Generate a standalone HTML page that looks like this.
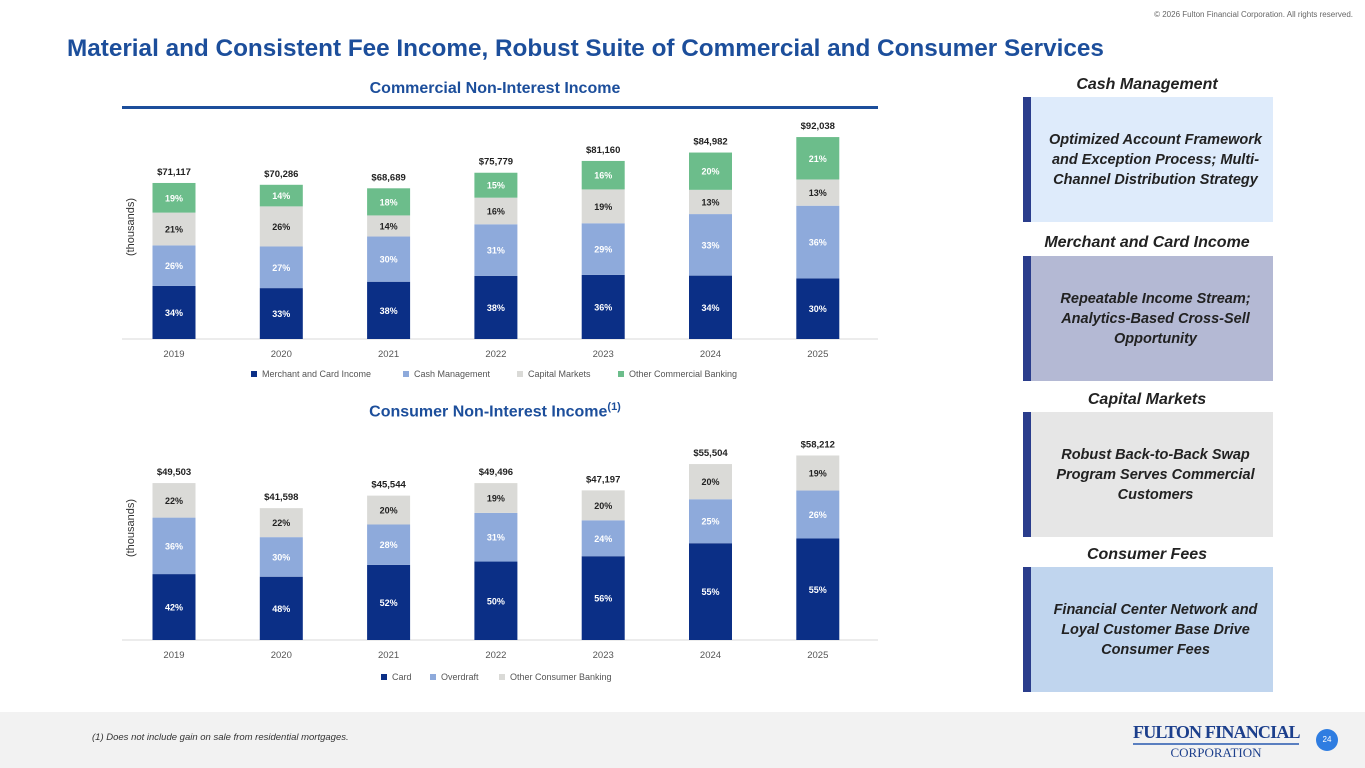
<!DOCTYPE html>
<html><head><meta charset="utf-8">
<style>
body{margin:0;width:1365px;height:768px;position:relative;background:#fff;font-family:"Liberation Sans",sans-serif;overflow:hidden}
.abs{position:absolute}
.title{left:67px;top:35px;font-size:24.3px;font-weight:bold;color:#1c4e9b;white-space:nowrap}
.copy{right:12px;top:10px;font-size:8px;color:#666}
.ct{font-size:16px;font-weight:bold;color:#1c4e9b;text-align:center}
.hd{font-size:16px;font-weight:bold;font-style:italic;color:#222;text-align:center;width:260px;left:1017px}
.box{left:1023px;width:250px;height:125px;display:flex;align-items:center;justify-content:center;text-align:center;font-size:14.5px;font-weight:bold;font-style:italic;color:#222;line-height:20px;box-sizing:border-box;padding:0 10px 0 17px;border-left:8px solid #2a3d8c}
.footer{left:0;top:712px;width:1365px;height:56px;background:#f2f2f2}
</style></head><body>
<div class="abs copy">© 2026 Fulton Financial Corporation. All rights reserved.</div>
<div class="abs title">Material and Consistent Fee Income, Robust Suite of Commercial and Consumer Services</div>
<div class="abs ct" style="left:115px;width:760px;top:80px">Commercial Non-Interest Income</div>
<div class="abs" style="left:122px;top:106px;width:756px;height:3px;background:#1c4e9b"></div>
<div class="abs ct" style="left:115px;width:760px;top:401px">Consumer Non-Interest Income<sup style="font-size:11px">(1)</sup></div>
<svg class="abs" id="c1" style="left:0;top:0" width="1000" height="400"></svg>
<svg class="abs" id="c2" style="left:0;top:390px" width="1000" height="310"></svg>

<div class="abs hd" style="top:76px">Cash Management</div>
<div class="abs box" style="top:97px;background:#deebfb">Optimized Account Framework and Exception Process; Multi-Channel Distribution Strategy</div>
<div class="abs hd" style="top:234px">Merchant and Card Income</div>
<div class="abs box" style="top:256px;background:#b4b9d4">Repeatable Income Stream; Analytics-Based Cross-Sell Opportunity</div>
<div class="abs hd" style="top:391px">Capital Markets</div>
<div class="abs box" style="top:412px;background:#e6e6e6">Robust Back-to-Back Swap Program Serves Commercial Customers</div>
<div class="abs hd" style="top:546px">Consumer Fees</div>
<div class="abs box" style="top:567px;background:#c0d5ee">Financial Center Network and Loyal Customer Base Drive Consumer Fees</div>

<div class="abs footer"></div>
<div class="abs" style="left:92px;top:732px;font-size:9.5px;font-style:italic;color:#333">(1) Does not include gain on sale from residential mortgages.</div>
<div class="abs" style="left:1133px;top:721px;width:166px;text-align:center;font-family:'Liberation Serif',serif;color:#1c3f8c;white-space:nowrap"><div style="font-size:18px;font-weight:bold;letter-spacing:-0.8px;border-bottom:2px solid #5a7fc0;line-height:22px">FULTON FINANCIAL</div><div style="font-size:13px;line-height:16px">CORPORATION</div></div>
<div class="abs" style="left:1316px;top:729px;width:22px;height:22px;border-radius:50%;background:#2f7de1;color:#fff;font-size:8px;text-align:center;line-height:22px">24</div>

<script>
const years=["2019","2020","2021","2022","2023","2024","2025"];
const comTotals=[71117,70286,68689,75779,81160,84982,92038];
const comMerchant=[34,33,38,38,36,34,30];
const comCash=[26,27,30,31,29,33,36];
const comCapital=[21,26,14,16,19,13,13];
const comOther=[19,14,18,15,16,20,21];
const conTotals=[49503,41598,45544,49496,47197,55504,58212];
const conCard=[42,48,52,50,56,55,55];
const conOverdraft=[36,30,28,31,24,25,26];
const conOther=[22,22,20,19,20,20,19];
const NS="http://www.w3.org/2000/svg";
function mk(svg,tag,attrs,txt){const e=document.createElementNS(NS,tag);for(const k in attrs)e.setAttribute(k,attrs[k]);if(txt!==undefined)e.textContent=txt;svg.appendChild(e);return e;}
function draw(id,totals,series,names,colors,txtColors,base,scale,legendXs,legendY,prefix){
  const svg=document.getElementById(id);
  const xc=i=>174+i*107.3;
  const line=mk(svg,"line",{x1:122,x2:878,y1:base,y2:base,stroke:"#d9d9d9"});
  
  const yl=mk(svg,"text",{x:0,y:0,transform:`translate(134,${base-112}) rotate(-90)`,"font-size":11,fill:"#333","text-anchor":"middle"},"(thousands)");
  
  years.forEach((yr,i)=>{
    const H=totals[i]*scale;let y=base;
    series.forEach((s,j)=>{
      const h=H*s[i]/100;y-=h;
      const r=mk(svg,"rect",{x:xc(i)-21.5,y:y,width:43,height:h,fill:colors[j]});
      
      const t=mk(svg,"text",{x:xc(i),y:y+h/2+3.5,"font-size":9,"font-weight":"bold",fill:txtColors[j],"text-anchor":"middle"},s[i]+"%");
      
    });
    const tl=mk(svg,"text",{x:xc(i),y:base-H-8,"font-size":9.5,"font-weight":"bold",fill:"#222","text-anchor":"middle"},"$"+totals[i].toLocaleString("en-US"));
    
    const xl=mk(svg,"text",{x:xc(i),y:base+18,"font-size":9.5,fill:"#555","text-anchor":"middle"},yr);
    
  });
  names.forEach((n,j)=>{
    const g=mk(svg,"g",{});
    
    mk(g,"rect",{x:legendXs[j],y:legendY-6,width:6,height:6,fill:colors[j]});
    mk(g,"text",{x:legendXs[j]+11,y:legendY,"font-size":9,fill:"#555"},n);
  });
}
draw("c1",comTotals,[comMerchant,comCash,comCapital,comOther],["Merchant and Card Income","Cash Management","Capital Markets","Other Commercial Banking"],["#0b2f86","#8eaadb","#dadad7","#6cbd8b"],["#fff","#fff","#222","#fff"],339,0.002194,[251,403,517,618],377,"commercial");
draw("c2",conTotals,[conCard,conOverdraft,conOther],["Card","Overdraft","Other Consumer Banking"],["#0b2f86","#8eaadb","#dadad7"],["#fff","#fff","#222"],250,0.00317,[381,430,499],290,"consumer");
</script>
</body></html>
